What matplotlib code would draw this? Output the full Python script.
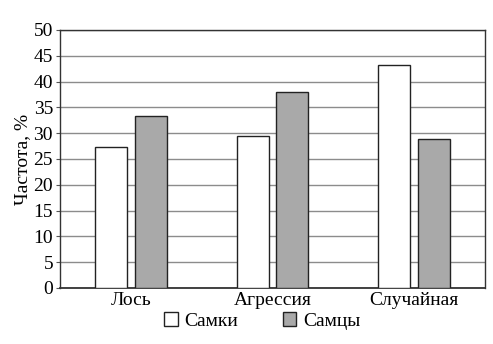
import matplotlib
matplotlib.use("Agg")
import matplotlib.pyplot as plt
import numpy as np

categories = ["Лось", "Агрессия", "Случайная"]
females = [27.3, 29.5, 43.2]
males = [33.3, 38.0, 28.9]
series_names = ["Самки", "Самцы"]

FAM = 'Liberation Serif'
plt.rcParams['font.family'] = 'serif'
plt.rcParams['font.serif'] = ['Liberation Serif', 'DejaVu Serif']

fig = plt.figure(figsize=(4.93, 3.44), dpi=100)
ax = fig.add_axes([0.1217, 0.1628, 0.8621, 0.75])

x = np.arange(len(categories))
w = 0.225
off = 0.14
ax.bar(x - off, females, width=w, color="white", edgecolor="#222222", linewidth=1.0, label=series_names[0], zorder=3)
ax.bar(x + off, males, width=w, color="#a9a9a9", edgecolor="#222222", linewidth=1.0, label=series_names[1], zorder=3)

ax.set_xlim(-0.5, 2.5)
ax.set_ylim(0, 50)
yt = np.arange(0, 51, 5)
ax.set_yticks(yt)
ax.set_yticklabels([str(v) for v in yt], family=FAM, fontsize=14)
ax.set_xticks(x)
ax.set_xticklabels(categories, family=FAM, fontsize=14)
ax.tick_params(axis='y', length=3, pad=2, color="#555555")
ax.tick_params(axis='x', length=0, pad=3)
ax.yaxis.grid(True, color="#8c8c8c", linewidth=1.0, zorder=0)
ax.set_axisbelow(True)
for s in ax.spines.values():
    s.set_color("#333333")
    s.set_linewidth(1.0)
ax.spines['bottom'].set_linewidth(1.3)
ax.set_ylabel("Частота, %", family=FAM, fontsize=14, labelpad=2)

leg = fig.legend(loc="lower center", bbox_to_anchor=(0.532, -0.01), ncol=2, frameon=False,
                 prop={'family': FAM, 'size': 14}, handlelength=0.7, handleheight=0.7,
                 handletextpad=0.35, columnspacing=2.3)

fig.savefig("out.png", dpi=100)
